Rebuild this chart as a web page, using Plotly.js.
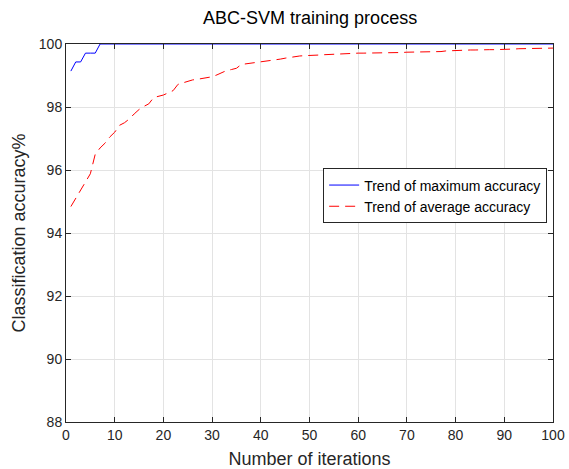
<!DOCTYPE html>
<html>
<head>
<meta charset="utf-8">
<script src="https://cdn.plot.ly/plotly-3.0.1.min.js"></script>
<style>html,body{margin:0;padding:0;background:#fff;}#chart{width:569px;height:469px;}</style>
</head>
<body>
<div id="chart"></div>
<script>
const iterations = Array.from({length: 100}, (_, i) => i + 1);
const maxAccuracy = [99.14, 99.43, 99.43, 99.71, 99.71, 99.71].concat(Array(94).fill(100));
const avgAccuracy = [
  94.84, 95.10, 95.40, 95.62, 95.88, 96.50, 96.70, 96.85, 97.05, 97.20,
  97.42, 97.50, 97.62, 97.78, 97.92, 98.02, 98.10, 98.30, 98.34, 98.38,
  98.45, 98.52, 98.72, 98.77, 98.82, 98.86, 98.88, 98.90, 98.93, 98.96,
  99.02, 99.10, 99.16, 99.19, 99.23, 99.35, 99.37, 99.38, 99.40, 99.43,
  99.44, 99.46, 99.48, 99.52, 99.55, 99.58, 99.60, 99.62, 99.63, 99.63,
  99.64, 99.65, 99.66, 99.67, 99.68, 99.68, 99.68, 99.69, 99.70, 99.71,
  99.71, 99.71, 99.71, 99.71, 99.71, 99.72, 99.73, 99.73, 99.73, 99.74,
  99.74, 99.74, 99.74, 99.74, 99.74, 99.75, 99.76, 99.78, 99.79, 99.79,
  99.80, 99.81, 99.81, 99.81, 99.82, 99.82, 99.82, 99.82, 99.82, 99.82,
  99.83, 99.84, 99.85, 99.85, 99.85, 99.86, 99.87, 99.87, 99.87, 99.87
];
const seriesNames = ['Trend of maximum accuracy', 'Trend of average accuracy'];
const xTicks = [0, 10, 20, 30, 40, 50, 60, 70, 80, 90, 100];
const yTicks = [88, 90, 92, 94, 96, 98, 100];

const traces = [
  {x: iterations, y: maxAccuracy, name: seriesNames[0], mode: 'lines',
   line: {color: '#0000ff', width: 1}},
  {x: iterations, y: avgAccuracy, name: seriesNames[1], mode: 'lines',
   line: {color: '#ff0000', width: 1, dash: '10px,6px'}}
];

const FONT = 'Liberation Sans, Arial, sans-serif';
const axisCommon = {
  showline: true, linecolor: '#262626', linewidth: 1, mirror: 'allticks',
  ticks: 'inside', ticklen: 5, tickcolor: '#262626', tickwidth: 1,
  showgrid: true, gridcolor: '#e3e3e3', gridwidth: 1, zeroline: false,
  tickfont: {family: FONT, size: 14, color: '#262626'}
};

const layout = {
  width: 569, height: 469,
  margin: {l: 66, r: 16, t: 44, b: 47},
  paper_bgcolor: '#ffffff', plot_bgcolor: '#ffffff',
  font: {family: FONT, color: '#262626'},
  title: {text: 'ABC-SVM training process', x: 0.545, xanchor: 'center', y: 0.962, yanchor: 'middle',
          font: {family: FONT, size: 18, color: '#000000'}},
  xaxis: Object.assign({}, axisCommon, {
    range: [0, 100], tickvals: xTicks, ticktext: xTicks.map(String),
    title: {text: 'Number of iterations', font: {family: FONT, size: 18, color: '#262626'}, standoff: 10}
  }),
  yaxis: Object.assign({}, axisCommon, {
    range: [88, 100], tickvals: yTicks, ticktext: yTicks.map(String),
    title: {text: 'Classification accuracy%', font: {family: FONT, size: 18, color: '#262626'}, standoff: 8}
  }),
  showlegend: true,
  legend: {x: 0.988, xanchor: 'right', y: 0.598, yanchor: 'middle',
           bgcolor: '#ffffff', bordercolor: '#262626', borderwidth: 1,
           font: {family: FONT, size: 14, color: '#000000'}, tracegroupgap: 0}
};

Plotly.newPlot('chart', traces, layout, {displayModeBar: false, staticPlot: true});
</script>
</body>
</html>
